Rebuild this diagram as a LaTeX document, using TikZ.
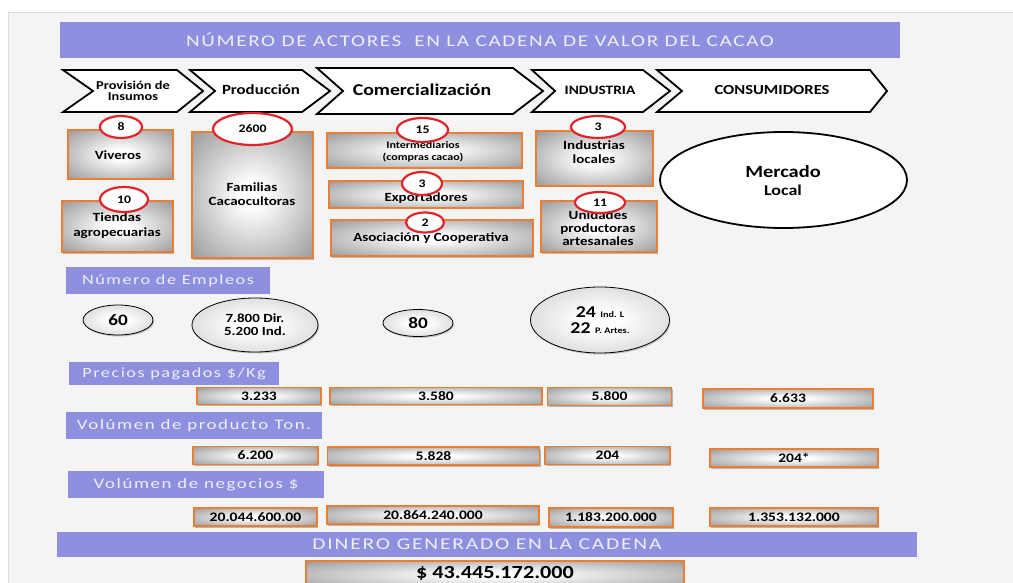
\documentclass[tikz,border=0pt]{standalone}
\usepackage{fontspec}
\setmainfont{Carlito}[FakeStretch=1.2]
\newfontfamily\lsp{Carlito}[FakeStretch=1.3,LetterSpace=11]
\newfontfamily\lspt{Carlito}[FakeStretch=1.3,LetterSpace=10]
\usetikzlibrary{shapes.geometric,shadows}
\definecolor{bannerc}{HTML}{8F8FE0}
\definecolor{bannertxt}{HTML}{EEEEF4}
\definecolor{bgc}{HTML}{F4F4F4}
\definecolor{bgline}{HTML}{DADADA}
\definecolor{orangec}{HTML}{ED7D31}
\definecolor{redc}{HTML}{E0242C}
\definecolor{boxgrey}{HTML}{999999}
\definecolor{boxgreyd}{HTML}{888888}
\definecolor{ellgrey}{HTML}{B4B4B4}
\pgfdeclareradialshading{softbox}{\pgfpoint{0bp}{0bp}}{color(0bp)=(white); color(5bp)=(white); color(36bp)=(boxgrey); color(50bp)=(boxgreyd)}
\pgfdeclareradialshading{softell}{\pgfpoint{0bp}{0bp}}{color(0bp)=(white); color(7bp)=(white); color(50bp)=(ellgrey)}
\newcommand\fsz[2]{\fontsize{#1}{#2}\selectfont}
\begin{document}
\begin{tikzpicture}[x=1pt,y=-1pt,
  banner/.style={fill=bannerc, text=bannertxt, inner sep=0pt},
  chev/.style={draw=black, line width=1.8pt, fill=white, line join=miter},
  gbox/.style={rectangle, draw=orangec, line width=1.1pt, shading=softbox, inner sep=0pt,
    drop shadow={shadow xshift=1pt, shadow yshift=-1.5pt, opacity=0.25, fill=black}},
  redell/.style={ellipse, draw=redc, line width=2.2pt, fill=white, inner sep=0pt, font=\bfseries\fsz{11.5}{11.5}},
  empell/.style={ellipse, draw=black, line width=0.8pt, shading=softell, inner sep=0pt,
    drop shadow={shadow xshift=1pt, shadow yshift=-1.5pt, opacity=0.2, fill=black}},
  txt/.style={align=center, inner sep=0pt, text=black, font=\bfseries\fsz{12.5}{13}},
  num/.style={inner sep=0pt, text=black, font=\bfseries\fsz{13}{13}},
  lbl/.style={banner, font=\lsp\fsz{14}{14}}
]
\useasboundingbox (0,0) rectangle (1013,583);
\clip (0,0) rectangle (1013,583);
\fill[white] (0,0) rectangle (1013,583);
\fill[bgc] (8,12) rectangle (1013,583);
\draw[bgline, line width=0.8pt] (8,583) -- (8,12) -- (1013,12);

% title
\node[banner, minimum width=840pt, minimum height=36pt, font=\lspt\fsz{16.3}{16.3}] (title) at (480,40) {NÚMERO DE ACTORES \ EN LA CADENA DE VALOR DEL CACAO};

% chevrons
\draw[chev] (63,70) -- (177,70) -- (203,91) -- (177,112) -- (63,112) -- (93,91) -- cycle;
\draw[chev] (190,70) -- (302,70) -- (330,91) -- (302,112) -- (190,112) -- (215,91) -- cycle;
\draw[chev] (317,68) -- (513,68) -- (543,91) -- (513,114) -- (317,114) -- (343,91) -- cycle;
\draw[chev] (532,70) -- (643,70) -- (670,91) -- (643,112) -- (532,112) -- (555,91) -- cycle;
\draw[chev] (657,70) -- (870,70) -- (887,91) -- (870,112) -- (657,112) -- (682,91) -- cycle;
\node[txt, font=\bfseries\fsz{12}{11.5}] (c1) at (133,91) {Provisión de\\Insumos};
\node[txt, font=\bfseries\fsz{14}{14}] (c2) at (261,90) {Producción};
\node[txt, font=\bfseries\fsz{16.5}{16.5}] (c3) at (422,90) {Comercialización};
\node[txt, font=\bfseries\fsz{12.8}{12.8}] (c4) at (600,90) {INDUSTRIA};
\node[txt, font=\bfseries\fsz{13.8}{13.8}] (c5) at (772,90) {CONSUMIDORES};

% actor boxes
\node[gbox, minimum width=105pt, minimum height=49pt] (viv) at (120.5,154.5) {};
\node[gbox, minimum width=111pt, minimum height=51pt] (tie) at (117.5,226.5) {};
\node[gbox, minimum width=121pt, minimum height=126pt] (fam) at (252.5,195) {};
\node[gbox, minimum width=195pt, minimum height=35pt] (int) at (424.5,150.5) {};
\node[gbox, minimum width=194pt, minimum height=27pt] (exp) at (426,194.5) {};
\node[gbox, minimum width=202pt, minimum height=36pt] (aso) at (432,238) {};
\node[gbox, minimum width=117pt, minimum height=55pt] (ind) at (594.5,158.5) {};
\node[gbox, minimum width=116pt, minimum height=51pt] (uni) at (599,226.5) {};

\node[txt] (vivt) at (118,155) {Viveros};
\node[txt, font=\bfseries\fsz{12.5}{15}] (tiet) at (117,226) {Tiendas\\agropecuarias};
\node[txt, font=\bfseries\fsz{12.5}{14}] (famt) at (252,194) {Familias\\Cacaocultoras};
\node[txt, font=\bfseries\fsz{10}{12}] (intt) at (423,152) {Intermediarios\\(compras cacao)};
\node[txt] (expt) at (426,198.5) {Exportadores};
\node[txt] (asot) at (431,238.5) {Asociación y Cooperativa};
\node[txt, font=\bfseries\fsz{12.5}{13.5}] (indt) at (594,152) {Industrias\\locales};
\node[txt, font=\bfseries\fsz{12.5}{13}] (unit) at (598,228) {Unidades\\productoras\\artesanales};

% red count ellipses
\node[redell, minimum width=42pt, minimum height=22pt] (n8) at (121,127) {8};
\node[redell, minimum width=48pt, minimum height=25pt] (n10) at (124,199.5) {10};
\node[redell, minimum width=79pt, minimum height=32pt] (n2600) at (252.5,129) {2600};
\node[redell, minimum width=51pt, minimum height=24pt] (n15) at (422.5,130) {15};
\node[redell, minimum width=40pt, minimum height=23pt] (n3a) at (422,183.5) {3};
\node[redell, minimum width=38pt, minimum height=20pt] (n2) at (425,222.5) {2};
\node[redell, minimum width=54pt, minimum height=22pt] (n3b) at (598,127) {3};
\node[redell, minimum width=50pt, minimum height=21pt] (n11) at (600,202.5) {11};

% mercado
\node[ellipse, draw=black, line width=1.8pt, fill=white, minimum width=247pt, minimum height=96pt, inner sep=0pt] (merc) at (783.5,180) {};
\node[txt, font=\bfseries\fsz{17}{17}] (merct1) at (783,172) {Mercado};
\node[txt, font=\bfseries\fsz{15}{15}] (merct2) at (783,190) {Local};

% employment
\node[lbl, minimum width=204pt, minimum height=27pt] (emp) at (168,280.5) {Número de Empleos};
\node[empell, minimum width=70pt, minimum height=30pt, font=\bfseries\fsz{16}{16}] (e60) at (118,320) {60};
\node[empell, minimum width=126pt, minimum height=54pt, font=\bfseries\fsz{12.5}{13}, align=center] (e7800) at (255,325) {7.800 Dir.\\5.200 Ind.};
\node[empell, minimum width=70pt, minimum height=27pt, font=\bfseries\fsz{16}{16}] (e80) at (418,323) {80};
\node[empell, minimum width=139pt, minimum height=66pt] (e24) at (600,320) {};
\node[inner sep=0pt, font=\bfseries] (e24a) at (600,312.5) {\fsz{16.5}{16.5}24 \fsz{8.5}{8.5}Ind. L};
\node[inner sep=0pt, font=\bfseries] (e24b) at (600,328) {\fsz{16.5}{16.5}22 \fsz{8.5}{8.5}P. Artes.};

% prices
\node[lbl, minimum width=210pt, minimum height=23pt] (pre) at (174,373.5) {Precios pagados \$/Kg};
\node[gbox, minimum width=124pt, minimum height=17pt, num] (p1) at (259,396) {3.233};
\node[gbox, minimum width=212pt, minimum height=17pt, num] (p2) at (436,396) {3.580};
\node[gbox, minimum width=124pt, minimum height=18pt, num] (p3) at (609.5,396.5) {5.800};
\node[gbox, minimum width=170pt, minimum height=19pt, num] (p4) at (788,398.5) {6.633};

% volume
\node[lbl, minimum width=256pt, minimum height=27pt, font=\lsp\fsz{14.5}{14.5}] (vol) at (194,425.5) {Volúmen de producto Ton.};
\node[gbox, minimum width=125pt, minimum height=18pt, num] (v1) at (255.5,455.5) {6.200};
\node[gbox, minimum width=212pt, minimum height=18pt, num] (v2) at (433.5,456) {5.828};
\node[gbox, minimum width=125pt, minimum height=18pt, num] (v3) at (607.5,455.5) {204};
\node[gbox, minimum width=168pt, minimum height=18pt, num] (v4) at (794,458) {204*};

% business
\node[lbl, minimum width=256pt, minimum height=27pt, font=\lsp\fsz{14.5}{14.5}] (neg) at (196,484.5) {Volúmen de negocios \$};
\node[gbox, minimum width=123pt, minimum height=18pt, num] (b1) at (255.5,517) {20.044.600.00};
\node[gbox, minimum width=212pt, minimum height=18pt, num] (b2) at (433,515) {20.864.240.000};
\node[gbox, minimum width=124pt, minimum height=19pt, num] (b3) at (611,517.5) {1.183.200.000};
\node[gbox, minimum width=168pt, minimum height=18pt, num] (b4) at (794,517) {1.353.132.000};

% total
\node[banner, minimum width=860pt, minimum height=25pt, font=\lsp\fsz{16.5}{16.5}] (din) at (487,544.5) {DINERO GENERADO EN LA CADENA};
\node[gbox, minimum width=378pt, minimum height=28pt] (tot) at (495,575) {};
\node[num, font=\bfseries\fsz{18.5}{18.5}] (tott) at (495,573.5) {\$ 43.445.172.000};
\end{tikzpicture}
\end{document}
